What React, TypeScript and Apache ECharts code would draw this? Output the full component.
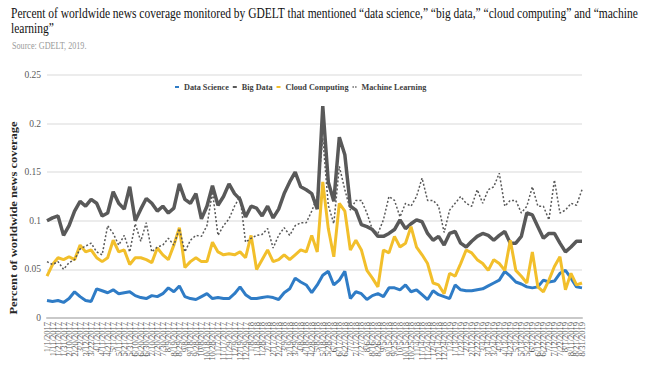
import React, { useEffect, useRef } from "react";
import * as echarts from "echarts";

const categories = [
  "1/1/2017","1/11/2017","1/21/2017","1/31/2017","2/10/2017","2/20/2017","3/2/2017","3/12/2017","3/22/2017","4/1/2017",
  "4/11/2017","4/21/2017","5/1/2017","5/11/2017","5/21/2017","5/31/2017","6/10/2017","6/20/2017","6/30/2017","7/10/2017",
  "7/20/2017","7/30/2017","8/9/2017","8/19/2017","8/29/2017","9/8/2017","9/18/2017","9/28/2017","10/8/2017","10/18/2017",
  "10/28/2017","11/7/2017","11/17/2017","11/29/2017","12/9/2017","12/19/2017","12/29/2017",
  "1/8/2018","1/18/2018","1/28/2018","2/7/2018","2/17/2018","2/27/2018","3/9/2018","3/19/2018","3/29/2018","4/8/2018",
  "4/18/2018","4/28/2018","5/8/2018","5/18/2018","5/28/2018","6/7/2018","6/17/2018","6/27/2018","7/7/2018","7/17/2018",
  "7/27/2018","8/6/2018","8/16/2018","8/26/2018","9/5/2018","9/15/2018","9/25/2018","10/5/2018","10/15/2018","10/25/2018",
  "11/4/2018","11/14/2018","11/24/2018","12/4/2018","12/14/2018","12/24/2018",
  "1/3/2019","1/13/2019","1/23/2019","2/2/2019","2/12/2019","2/22/2019","3/4/2019","3/14/2019","3/24/2019","4/3/2019",
  "4/13/2019","4/23/2019","5/3/2019","5/13/2019","5/23/2019","6/2/2019","6/12/2019","6/22/2019","7/2/2019","7/12/2019",
  "7/22/2019","8/1/2019","8/11/2019","8/21/2019","8/31/2019"
];

const yTicks = [0, 0.05, 0.1, 0.15, 0.2, 0.25];

const dataScience = [
  0.018, 0.017, 0.018, 0.016, 0.020, 0.027, 0.022, 0.018, 0.017, 0.030,
  0.028, 0.026, 0.029, 0.025, 0.026, 0.027, 0.023, 0.021, 0.020, 0.023,
  0.022, 0.025, 0.031, 0.027, 0.033, 0.022, 0.020, 0.019, 0.022, 0.025,
  0.020, 0.021, 0.020, 0.020, 0.025, 0.032, 0.024, 0.020, 0.020, 0.021,
  0.022, 0.021, 0.019, 0.026, 0.030, 0.041, 0.037, 0.034, 0.026, 0.034,
  0.044, 0.048, 0.034, 0.039, 0.048, 0.020, 0.027, 0.025, 0.019, 0.023,
  0.025, 0.022, 0.031, 0.031, 0.029, 0.034, 0.027, 0.029, 0.024, 0.019,
  0.028, 0.024, 0.022, 0.020, 0.034, 0.029, 0.028, 0.028, 0.029, 0.030,
  0.033, 0.036, 0.039, 0.048, 0.043, 0.037, 0.035, 0.032, 0.031, 0.032,
  0.039, 0.037, 0.038, 0.046, 0.049, 0.041, 0.032, 0.031
];

const bigData = [
  0.100, 0.103, 0.105, 0.085, 0.095, 0.110, 0.120, 0.115, 0.122, 0.118,
  0.105, 0.108, 0.130, 0.118, 0.112, 0.135, 0.100, 0.112, 0.123, 0.118,
  0.110, 0.115, 0.108, 0.113, 0.138, 0.122, 0.118, 0.128, 0.102, 0.115,
  0.136, 0.116, 0.125, 0.138, 0.128, 0.122, 0.104, 0.115, 0.113, 0.105,
  0.115, 0.103, 0.112, 0.128, 0.140, 0.150, 0.135, 0.132, 0.128, 0.112,
  0.218, 0.140, 0.120, 0.186, 0.168, 0.115, 0.111, 0.096, 0.094, 0.091,
  0.084, 0.084, 0.087, 0.091, 0.101, 0.092, 0.097, 0.101, 0.099, 0.087,
  0.080, 0.084, 0.075, 0.087, 0.089, 0.077, 0.073, 0.079, 0.084, 0.087,
  0.085, 0.080, 0.085, 0.089, 0.077, 0.077, 0.084, 0.108, 0.106, 0.094,
  0.082, 0.087, 0.087, 0.077, 0.068, 0.073, 0.079, 0.079
];

const cloudComputing = [
  0.043, 0.055, 0.062, 0.060, 0.063, 0.060, 0.075, 0.068, 0.070, 0.062,
  0.058, 0.062, 0.080, 0.068, 0.070, 0.055, 0.062, 0.062, 0.060, 0.057,
  0.072, 0.065, 0.060, 0.075, 0.093, 0.052, 0.058, 0.062, 0.058, 0.058,
  0.078, 0.068, 0.065, 0.066, 0.065, 0.068, 0.062, 0.085, 0.050, 0.060,
  0.070, 0.058, 0.060, 0.065, 0.060, 0.065, 0.070, 0.068, 0.085, 0.068,
  0.140, 0.092, 0.063, 0.118, 0.110, 0.070, 0.080, 0.070, 0.049, 0.041,
  0.032, 0.070, 0.067, 0.084, 0.073, 0.077, 0.094, 0.073, 0.065, 0.056,
  0.036, 0.034, 0.025, 0.046, 0.043, 0.056, 0.070, 0.067, 0.060, 0.056,
  0.049, 0.060, 0.056, 0.049, 0.080, 0.049, 0.043, 0.036, 0.068, 0.032,
  0.027, 0.039, 0.053, 0.063, 0.029, 0.046, 0.034, 0.036
];

const machineLearning = [
  0.058, 0.055, 0.058, 0.050, 0.057, 0.060, 0.071, 0.074, 0.077, 0.068,
  0.065, 0.095, 0.087, 0.075, 0.085, 0.068, 0.097, 0.079, 0.098, 0.068,
  0.073, 0.075, 0.082, 0.075, 0.092, 0.068, 0.080, 0.085, 0.084, 0.095,
  0.130, 0.085, 0.095, 0.102, 0.115, 0.125, 0.078, 0.082, 0.085, 0.086,
  0.092, 0.072, 0.085, 0.093, 0.085, 0.095, 0.098, 0.098, 0.110, 0.125,
  0.185, 0.116, 0.097, 0.156, 0.132, 0.111, 0.121, 0.121, 0.108, 0.091,
  0.087, 0.101, 0.125, 0.121, 0.104, 0.118, 0.115, 0.125, 0.144, 0.121,
  0.121, 0.115, 0.088, 0.111, 0.118, 0.125, 0.118, 0.115, 0.132, 0.118,
  0.132, 0.135, 0.149, 0.115, 0.121, 0.121, 0.108, 0.115, 0.135, 0.115,
  0.115, 0.101, 0.142, 0.108, 0.111, 0.118, 0.116, 0.132
];

const seriesNames = ["Data Science", "Big Data", "Cloud Computing", "Machine Learning"];
const seriesColors = ["#2f7cc6", "#595959", "#f2bf2b", "#595959"];

const titleText =
  "Percent of worldwide news coverage monitored by GDELT that mentioned \u201cdata science,\u201d \u201cbig data,\u201d \u201ccloud computing\u201d and \u201cmachine\nlearning\u201d";
const sourceText = "Source: GDELT, 2019.";
const yAxisTitle = "Percent of worldwide news coverage";

const SERIF = "'Liberation Serif', 'Times New Roman', serif";

export default function App() {
  const ref = useRef<HTMLDivElement>(null);
  useEffect(() => {
    if (!ref.current) return;
    const chart = echarts.init(ref.current, null, { renderer: "svg" });
    chart.setOption({
      animation: false,
      backgroundColor: "#ffffff",
      textStyle: { fontFamily: SERIF },
      graphic: [
        {
          type: "text",
          x: 11,
          y: 5,
          scaleX: 0.767,
          style: {
            text: titleText,
            fontFamily: SERIF,
            fontSize: 15,
            lineHeight: 15,
            fill: "#111111",
            verticalAlign: "top",
          },
        },
        {
          type: "text",
          x: 12,
          y: 40,
          scaleX: 0.74,
          style: {
            text: sourceText,
            fontFamily: SERIF,
            fontSize: 11,
            fill: "#9a9a9a",
            verticalAlign: "top",
          },
        },
        {
          type: "text",
          x: 14,
          y: 218,
          rotation: Math.PI / 2,
          scaleY: 0.75,
          style: {
            text: yAxisTitle,
            fontFamily: SERIF,
            fontSize: 12.5,
            fontWeight: "bold",
            fill: "#262626",
            align: "center",
            verticalAlign: "middle",
          },
        },
      ],
      legend: {
        data: [
          { name: seriesNames[0], icon: "rect" },
          { name: seriesNames[1], icon: "rect" },
          { name: seriesNames[2], icon: "rect" },
          { name: seriesNames[3], icon: "path://M0,0h2v2h-2zM4,0h2v2h-2z" },
        ],
        top: 83,
        left: 175,
        padding: 0,
        itemGap: 4,
        itemWidth: 4,
        itemHeight: 2,
        textStyle: {
          fontFamily: SERIF,
          fontSize: 8.2,
          fontWeight: "bold",
          color: "#404040",
        },
      },
      grid: { left: 47, right: 64, top: 75, bottom: 56, containLabel: false },
      xAxis: {
        type: "category",
        data: categories,
        boundaryGap: false,
        axisLine: { lineStyle: { color: "#c9c9c9", width: 2 } },
        axisTick: { show: false },
        axisLabel: {
          interval: 0,
          rotate: 90,
          fontSize: 8.5,
          color: "#595959",
          fontFamily: SERIF,
          margin: 4,
        },
      },
      yAxis: {
        type: "value",
        min: yTicks[0],
        max: yTicks[yTicks.length - 1],
        interval: 0.05,
        axisLine: { show: false },
        axisTick: { show: false },
        splitLine: { lineStyle: { color: "#e6e6e6", width: 1.5 } },
        axisLabel: {
          color: "#595959",
          fontSize: 9.5,
          fontFamily: SERIF,
          margin: 6,
        },
      },
      series: [
        {
          name: seriesNames[0],
          type: "line",
          data: dataScience,
          symbol: "none",
          lineStyle: { color: seriesColors[0], width: 3 },
          itemStyle: { color: seriesColors[0] },
        },
        {
          name: seriesNames[1],
          type: "line",
          data: bigData,
          symbol: "none",
          lineStyle: { color: seriesColors[1], width: 3.5 },
          itemStyle: { color: seriesColors[1] },
        },
        {
          name: seriesNames[2],
          type: "line",
          data: cloudComputing,
          symbol: "none",
          lineStyle: { color: seriesColors[2], width: 3 },
          itemStyle: { color: seriesColors[2] },
        },
        {
          name: seriesNames[3],
          type: "line",
          data: machineLearning,
          symbol: "none",
          lineStyle: { color: seriesColors[3], width: 1.5, type: [2, 2] },
          itemStyle: { color: seriesColors[3] },
        },
      ],
    });
    return () => chart.dispose();
  }, []);
  return (
    <div
      ref={ref}
      style={{ position: "fixed", left: 0, top: 0, width: 646, height: 374 }}
    />
  );
}
